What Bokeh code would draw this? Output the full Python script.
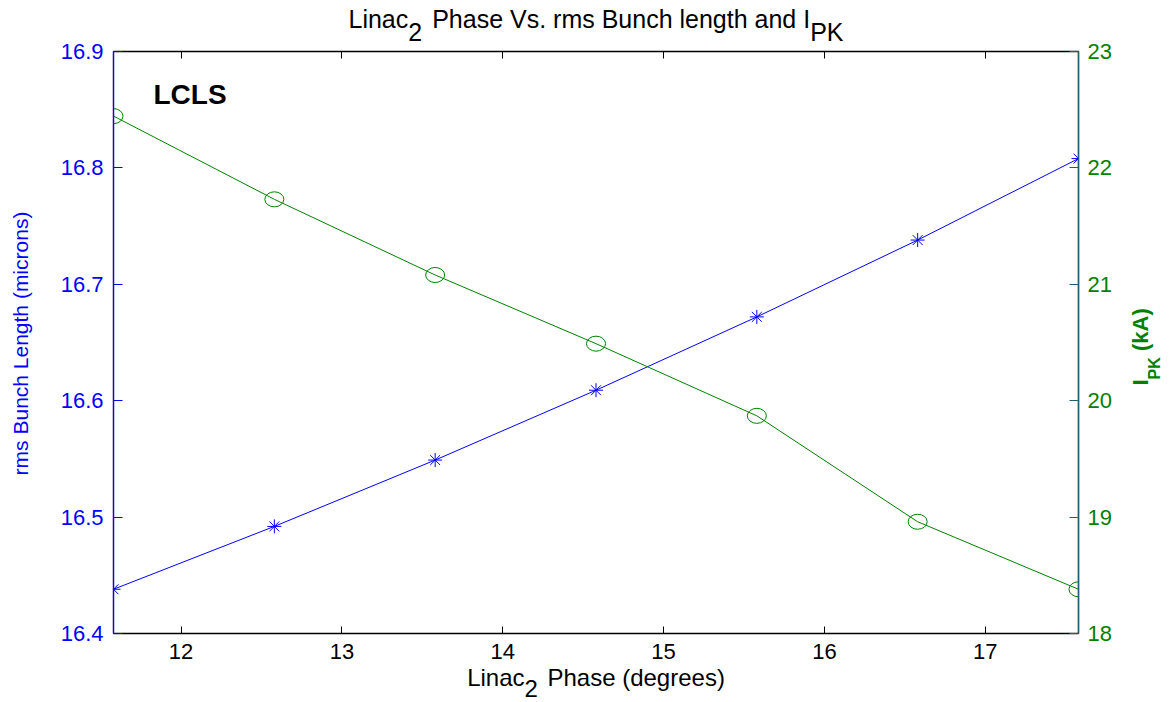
import math
from bokeh.plotting import figure
from bokeh.models import Range1d, LinearAxis, FixedTicker, GridBox
from bokeh.core.properties import value
from bokeh.embed import file_html
from bokeh.resources import INLINE

# ---------------- data ----------------
phase = [11.58, 12.58, 13.58, 14.58, 15.58, 16.58, 17.58]
bunch_length = [16.438, 16.492, 16.549, 16.609, 16.672, 16.738, 16.808]
i_pk = [22.445, 21.73, 21.08, 20.49, 19.87, 18.96, 18.38]

x_ticks = [12, 13, 14, 15, 16, 17]
left_ticks = [16.4, 16.5, 16.6, 16.7, 16.8, 16.9]
right_ticks = [18, 19, 20, 21, 22, 23]

x_lim = (11.58, 17.58)
left_lim = (16.4, 16.9)
right_lim = (18, 23)

# ---------------- layout ----------------
W, H = 1170, 702
FL, FR, FT, FB = 113, 1078, 51, 633
FONT = "Liberation Sans"
BLUE = "#0000ff"
GREEN = "#008000"
TEAL = "#1f6070"

p = figure(width=W, height=H, min_border_left=FL, min_border_right=W - FR,
           min_border_top=FT, min_border_bottom=H - FB,
           x_range=Range1d(*x_lim), y_range=Range1d(*left_lim),
           output_backend="svg", toolbar_location=None,
           background_fill_color="white", border_fill_color="white")
p.frame_align = False
p.extra_y_ranges = {"right": Range1d(*right_lim)}
p.xgrid.visible = False
p.ygrid.visible = False
p.outline_line_color = "black"
p.outline_line_width = 1.2

TICK_FS = "22px"

# bottom axis
xa = p.xaxis[0]
xa.ticker = FixedTicker(ticks=x_ticks)
xa.axis_line_color = "black"
xa.axis_line_width = 1.5
xa.major_tick_in = 7
xa.major_tick_out = 0
xa.major_tick_line_color = "black"
xa.minor_tick_line_color = None
xa.major_label_text_font = FONT
xa.major_label_text_font_size = TICK_FS
xa.major_label_text_color = "black"
xa.major_label_standoff = 10

# left axis
ya = p.yaxis[0]
ya.ticker = FixedTicker(ticks=left_ticks)
ya.axis_line_color = BLUE
ya.axis_line_width = 1.3
ya.major_tick_in = 9
ya.major_tick_out = 0
ya.major_tick_line_color = BLUE
ya.minor_tick_line_color = None
ya.major_label_text_font = FONT
ya.major_label_text_font_size = TICK_FS
ya.major_label_text_color = BLUE
ya.major_label_standoff = 10

# right axis
ra = LinearAxis(y_range_name="right", ticker=FixedTicker(ticks=right_ticks))
ra.axis_line_color = TEAL
ra.axis_line_width = 1.5
ra.major_tick_in = 9
ra.major_tick_out = 0
ra.major_tick_line_color = TEAL
ra.minor_tick_line_color = None
ra.major_label_text_font = FONT
ra.major_label_text_font_size = TICK_FS
ra.major_label_text_color = GREEN
ra.major_label_standoff = 9
p.add_layout(ra, "right")

# top axis (ticks only, labels not painted)
ta = LinearAxis(ticker=FixedTicker(ticks=x_ticks))
ta.axis_line_color = "black"
ta.axis_line_width = 1.5
ta.major_tick_in = 7
ta.major_tick_out = 0
ta.minor_tick_line_color = None
ta.major_label_text_font_size = "1px"
ta.major_label_text_color = None
ta.major_label_standoff = 0
p.add_layout(ta, "above")

# ---------------- glyphs ----------------
p.line(phase, bunch_length, line_color=BLUE, line_width=1)
p.scatter(phase, bunch_length, marker="asterisk", size=14, line_color=BLUE, line_width=1)
p.line(phase, i_pk, line_color=GREEN, line_width=1, y_range_name="right")
p.ellipse(phase, i_pk, width=19, height=15, width_units="screen", height_units="screen",
          fill_color=None, line_color=GREEN, line_width=1, y_range_name="right")

# ---------------- text overlay (pixel space, covers the whole canvas) ----------------
ov = figure(width=W, height=H, x_range=Range1d(0, W), y_range=Range1d(H, 0),
            x_axis_type=None, y_axis_type=None,
            min_border_left=0, min_border_right=0, min_border_top=0, min_border_bottom=0,
            output_backend="svg", toolbar_location=None,
            background_fill_color=None, border_fill_color=None, outline_line_color=None)
ov.frame_align = False
ov.xgrid.visible = False
ov.ygrid.visible = False

REG = {" ": 278, "(": 333, ")": 333, ".": 278, "2": 556, "A": 667, "B": 667, "C": 722,
       "I": 278, "K": 667, "L": 556, "P": 667, "S": 667, "V": 667, "a": 556, "c": 500,
       "d": 556, "e": 556, "g": 556, "h": 556, "i": 222, "k": 500, "l": 222, "m": 833,
       "n": 556, "o": 556, "r": 333, "s": 500, "t": 278, "u": 556}
BOLD = {" ": 278, "(": 333, ")": 333, "I": 278, "P": 667, "K": 722, "k": 556, "A": 722}


def tw(s, size, bold=False):
    tbl = BOLD if bold else REG
    return sum(tbl.get(ch, 556) for ch in s) / 1000.0 * size


def lab(text, px, py, size, color="black", bold=False, angle=0.0, align="left"):
    ov.text(x=[px], y=[py], text=[text], text_font=value(FONT),
            text_font_size=value(f"{size}px"), text_color=color,
            text_font_style="bold" if bold else "normal",
            text_align=align, text_baseline="alphabetic", angle=angle)


# title: Linac_2 Phase Vs. rms Bunch length and I_PK
ts = 25
gap = 0.4 * ts
t_parts = ["Linac", "2", "Phase Vs. rms Bunch length and I", "PK"]
t_w = [tw(s, ts) for s in t_parts]
total = sum(t_w) + gap
x0 = (FL + FR) / 2 - total / 2
base, sub = 18, 31
lab(t_parts[0], x0, base, ts)
x1 = x0 + t_w[0]
lab(t_parts[1], x1, sub, ts)
x2 = x1 + t_w[1] + gap
lab(t_parts[2], x2, base, ts)
x3 = x2 + t_w[2]
lab(t_parts[3], x3, sub, ts)

# x label: Linac_2 Phase (degrees)
xsz = 24
xgap = 0.4 * xsz
x_parts = ["Linac", "2", "Phase (degrees)"]
x_w = [tw(s, xsz) for s in x_parts]
total = sum(x_w) + xgap
x0 = (FL + FR) / 2 - total / 2
lab(x_parts[0], x0, 677, xsz)
x1 = x0 + x_w[0]
lab(x_parts[1], x1, 688, xsz)
lab(x_parts[2], x1 + x_w[1] + xgap, 677, xsz)

# left y label
lab("rms Bunch Length (microns)", 20, 343, 21, color=BLUE, angle=math.pi / 2, align="center")

# right y label: I_PK (kA)
r0 = 385
lab("I", 1140, r0, 22, color=GREEN, bold=True, angle=math.pi / 2)
r1 = r0 - tw("I", 22, True)
lab("PK", 1154, r1, 16, color=GREEN, bold=True, angle=math.pi / 2)
r2 = r1 - tw("PK", 16, True) - tw(" ", 22, True)
lab("(kA)", 1140, r2, 22, color=GREEN, bold=True, angle=math.pi / 2)

# in-plot annotation
lab("LCLS", 153, 94, 28, bold=True)

layout = GridBox(children=[(p, 0, 0), (ov, 0, 0)])
open("out.html", "w").write(file_html(layout, INLINE))
